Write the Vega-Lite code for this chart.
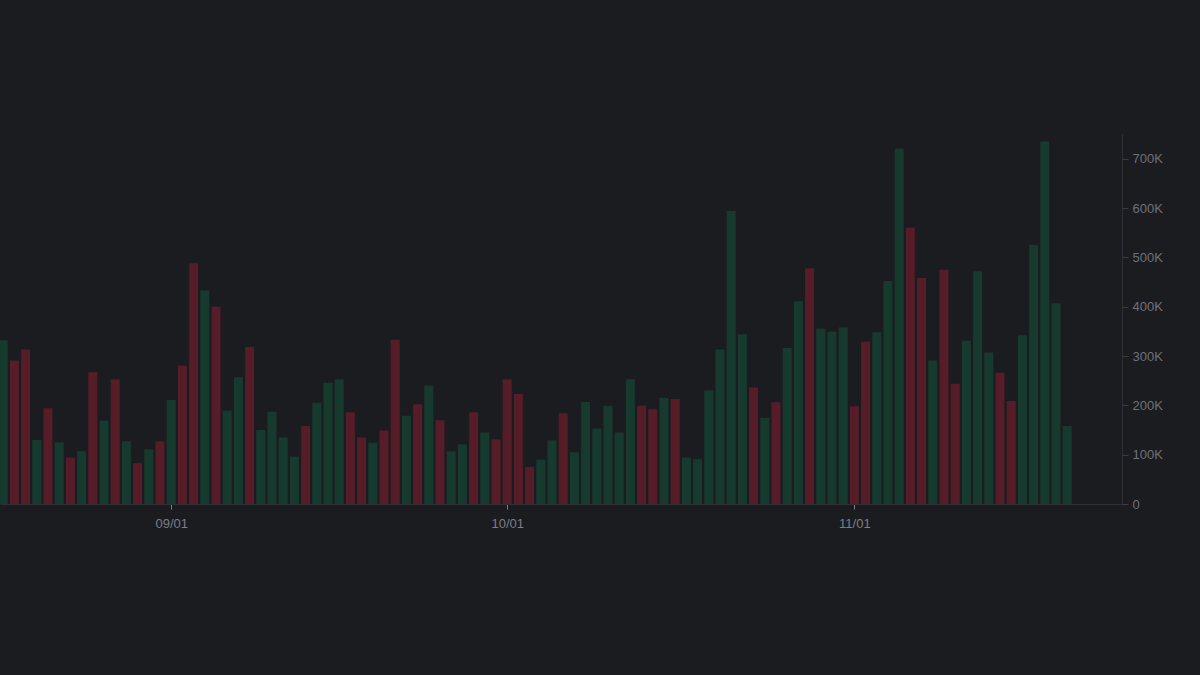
{
  "$schema": "https://vega.github.io/schema/vega-lite/v6.json",
  "width": 1122,
  "height": 370,
  "autosize": {"type": "none"},
  "padding": {"left": 0, "top": 134, "right": 78, "bottom": 171},
  "background": "#1b1c20",
  "config": {
    "view": {"stroke": null},
    "font": "Liberation Sans"
  },
  "data": {
    "values": [
      {"d": "2024-08-17", "v": 332000, "c": "up"},
      {"d": "2024-08-18", "v": 291000, "c": "down"},
      {"d": "2024-08-19", "v": 313000, "c": "down"},
      {"d": "2024-08-20", "v": 130000, "c": "up"},
      {"d": "2024-08-21", "v": 194000, "c": "down"},
      {"d": "2024-08-22", "v": 125000, "c": "up"},
      {"d": "2024-08-23", "v": 94000, "c": "down"},
      {"d": "2024-08-24", "v": 107000, "c": "up"},
      {"d": "2024-08-25", "v": 267000, "c": "down"},
      {"d": "2024-08-26", "v": 169000, "c": "up"},
      {"d": "2024-08-27", "v": 253000, "c": "down"},
      {"d": "2024-08-28", "v": 127000, "c": "up"},
      {"d": "2024-08-29", "v": 83000, "c": "down"},
      {"d": "2024-08-30", "v": 111000, "c": "up"},
      {"d": "2024-08-31", "v": 127000, "c": "down"},
      {"d": "2024-09-01", "v": 211000, "c": "up"},
      {"d": "2024-09-02", "v": 280000, "c": "down"},
      {"d": "2024-09-03", "v": 488000, "c": "down"},
      {"d": "2024-09-04", "v": 433000, "c": "up"},
      {"d": "2024-09-05", "v": 400000, "c": "down"},
      {"d": "2024-09-06", "v": 189000, "c": "up"},
      {"d": "2024-09-07", "v": 257000, "c": "up"},
      {"d": "2024-09-08", "v": 318000, "c": "down"},
      {"d": "2024-09-09", "v": 150000, "c": "up"},
      {"d": "2024-09-10", "v": 187000, "c": "up"},
      {"d": "2024-09-11", "v": 135000, "c": "up"},
      {"d": "2024-09-12", "v": 96000, "c": "up"},
      {"d": "2024-09-13", "v": 158000, "c": "down"},
      {"d": "2024-09-14", "v": 205000, "c": "up"},
      {"d": "2024-09-15", "v": 246000, "c": "up"},
      {"d": "2024-09-16", "v": 253000, "c": "up"},
      {"d": "2024-09-17", "v": 186000, "c": "down"},
      {"d": "2024-09-18", "v": 135000, "c": "down"},
      {"d": "2024-09-19", "v": 124000, "c": "up"},
      {"d": "2024-09-20", "v": 149000, "c": "down"},
      {"d": "2024-09-21", "v": 333000, "c": "down"},
      {"d": "2024-09-22", "v": 179000, "c": "up"},
      {"d": "2024-09-23", "v": 202000, "c": "down"},
      {"d": "2024-09-24", "v": 240000, "c": "up"},
      {"d": "2024-09-25", "v": 170000, "c": "down"},
      {"d": "2024-09-26", "v": 107000, "c": "up"},
      {"d": "2024-09-27", "v": 121000, "c": "up"},
      {"d": "2024-09-28", "v": 186000, "c": "down"},
      {"d": "2024-09-29", "v": 145000, "c": "up"},
      {"d": "2024-09-30", "v": 131000, "c": "down"},
      {"d": "2024-10-01", "v": 253000, "c": "down"},
      {"d": "2024-10-02", "v": 223000, "c": "down"},
      {"d": "2024-10-03", "v": 75000, "c": "down"},
      {"d": "2024-10-04", "v": 90000, "c": "up"},
      {"d": "2024-10-05", "v": 129000, "c": "up"},
      {"d": "2024-10-06", "v": 184000, "c": "down"},
      {"d": "2024-10-07", "v": 105000, "c": "up"},
      {"d": "2024-10-08", "v": 207000, "c": "up"},
      {"d": "2024-10-09", "v": 153000, "c": "up"},
      {"d": "2024-10-10", "v": 199000, "c": "up"},
      {"d": "2024-10-11", "v": 145000, "c": "up"},
      {"d": "2024-10-12", "v": 253000, "c": "up"},
      {"d": "2024-10-13", "v": 199000, "c": "down"},
      {"d": "2024-10-14", "v": 192000, "c": "down"},
      {"d": "2024-10-15", "v": 215000, "c": "up"},
      {"d": "2024-10-16", "v": 213000, "c": "down"},
      {"d": "2024-10-17", "v": 94000, "c": "up"},
      {"d": "2024-10-18", "v": 91000, "c": "up"},
      {"d": "2024-10-19", "v": 230000, "c": "up"},
      {"d": "2024-10-20", "v": 313000, "c": "up"},
      {"d": "2024-10-21", "v": 594000, "c": "up"},
      {"d": "2024-10-22", "v": 344000, "c": "up"},
      {"d": "2024-10-23", "v": 236000, "c": "down"},
      {"d": "2024-10-24", "v": 175000, "c": "up"},
      {"d": "2024-10-25", "v": 206000, "c": "down"},
      {"d": "2024-10-26", "v": 316000, "c": "up"},
      {"d": "2024-10-27", "v": 411000, "c": "up"},
      {"d": "2024-10-28", "v": 478000, "c": "down"},
      {"d": "2024-10-29", "v": 355000, "c": "up"},
      {"d": "2024-10-30", "v": 349000, "c": "up"},
      {"d": "2024-10-31", "v": 358000, "c": "up"},
      {"d": "2024-11-01", "v": 198000, "c": "down"},
      {"d": "2024-11-02", "v": 329000, "c": "down"},
      {"d": "2024-11-03", "v": 348000, "c": "up"},
      {"d": "2024-11-04", "v": 452000, "c": "up"},
      {"d": "2024-11-05", "v": 720000, "c": "up"},
      {"d": "2024-11-06", "v": 560000, "c": "down"},
      {"d": "2024-11-07", "v": 458000, "c": "down"},
      {"d": "2024-11-08", "v": 291000, "c": "up"},
      {"d": "2024-11-09", "v": 475000, "c": "down"},
      {"d": "2024-11-10", "v": 244000, "c": "down"},
      {"d": "2024-11-11", "v": 331000, "c": "up"},
      {"d": "2024-11-12", "v": 472000, "c": "up"},
      {"d": "2024-11-13", "v": 307000, "c": "up"},
      {"d": "2024-11-14", "v": 266000, "c": "down"},
      {"d": "2024-11-15", "v": 209000, "c": "down"},
      {"d": "2024-11-16", "v": 342000, "c": "up"},
      {"d": "2024-11-17", "v": 525000, "c": "up"},
      {"d": "2024-11-18", "v": 735000, "c": "up"},
      {"d": "2024-11-19", "v": 407000, "c": "up"},
      {"d": "2024-11-20", "v": 158000, "c": "up"}
    ]
  },
  "mark": {"type": "bar", "width": 9, "clip": true},
  "encoding": {
    "x": {
      "field": "d",
      "type": "temporal",
      "scale": {
        "type": "utc",
        "padding": 0,
        "domain": [
          {"year": 2024, "month": 8, "date": 16, "hours": 17, "minutes": 9, "utc": true},
          {"year": 2024, "month": 11, "date": 24, "hours": 21, "minutes": 30, "utc": true}
        ]
      },
      "axis": {
        "title": null,
        "values": [
          {"year": 2024, "month": 9, "date": 1, "utc": true},
          {"year": 2024, "month": 10, "date": 1, "utc": true},
          {"year": 2024, "month": 11, "date": 1, "utc": true}
        ],
        "format": "%m/%d",
        "grid": false,
        "domainColor": "#2e3035",
        "domainWidth": 1,
        "tickColor": "#7a7d85",
        "tickSize": 5,
        "labelColor": "#7b7e86",
        "labelFontSize": 13,
        "labelPadding": 8,
        "labelFont": "Liberation Sans"
      }
    },
    "y": {
      "field": "v",
      "type": "quantitative",
      "scale": {"domain": [0, 750000], "nice": false},
      "axis": {
        "title": null,
        "orient": "right",
        "values": [0, 100000, 200000, 300000, 400000, 500000, 600000, 700000],
        "labelExpr": "datum.value == 0 ? '0' : (datum.value / 1000) + 'K'",
        "grid": false,
        "domainColor": "#2e3035",
        "tickColor": "#3a3c42",
        "tickSize": 6,
        "labelColor": "#6e7179",
        "labelFontSize": 13,
        "labelPadding": 4,
        "labelFont": "Liberation Sans"
      }
    },
    "color": {
      "field": "c",
      "type": "nominal",
      "scale": {"domain": ["up", "down"], "range": ["#163a2e", "#561c28"]},
      "legend": null
    }
  }
}
